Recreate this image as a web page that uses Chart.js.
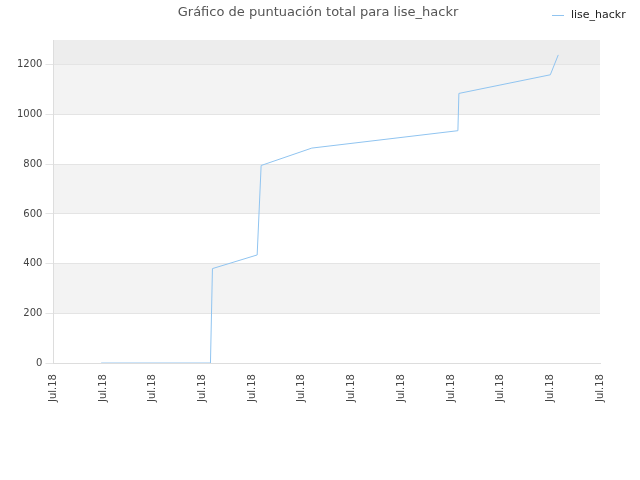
<!DOCTYPE html>
<html><head><meta charset="utf-8">
<script src="https://cdn.jsdelivr.net/npm/chart.js@4/dist/chart.umd.min.js"></script>
<style>body{margin:0;background:#fff}#w{width:640px;height:480px}</style>
</head><body><div id="w"><canvas id="c"></canvas></div>
<script>
const xValues=[0.96,3.16,3.2,4.1,4.18,5.2,8.14,8.16,10.0,10.16];
const yValues=[0,0,380,435,795,865,935,1085,1160,1240];
const tickLabel="Jul.18";
const seriesName="lise_hackr";
const titleText="Gráfico de puntuación total para lise_hackr";
const bands=[[200,400,'#f3f3f3'],[600,800,'#f3f3f3'],[1000,1200,'#f3f3f3'],[1200,1300,'#ededed']];
const bandPlugin={id:'bands',beforeDraw(ch){const {ctx,chartArea:a,scales:{y}}=ch;ctx.save();
for(const [lo,hi,c] of bands){const t=y.getPixelForValue(hi),b=y.getPixelForValue(lo);ctx.fillStyle=c;ctx.fillRect(a.left,t,a.right-a.left,b-t);}ctx.restore();},
afterDraw(ch){const ctx=ch.ctx;ctx.save();ctx.font='13px DejaVu Sans';ctx.fillStyle='#555';ctx.textAlign='center';ctx.textBaseline='middle';
ctx.fillText(titleText,318,13);ctx.font='11px DejaVu Sans';ctx.fillStyle='#222';ctx.textAlign='left';ctx.fillText(seriesName,571,15);
ctx.strokeStyle='#90c4f0';ctx.lineWidth=1;ctx.beginPath();ctx.moveTo(552,15.5);ctx.lineTo(564,15.5);ctx.stroke();ctx.restore();}};
new Chart(document.getElementById('c'),{type:'line',
data:{datasets:[{label:seriesName,data:xValues.map((x,i)=>({x,y:yValues[i]})),borderColor:'#90c4f0',backgroundColor:'#90c4f0',borderWidth:1,pointRadius:0,tension:0}]},
options:{responsive:true,maintainAspectRatio:false,animation:false,
layout:{padding:{left:14,right:40,top:40,bottom:75}},
plugins:{title:{display:false},legend:{display:false},tooltip:{enabled:false}},
scales:{x:{type:'linear',min:0,max:11,ticks:{stepSize:1,maxRotation:90,minRotation:90,color:'#444',font:{family:'DejaVu Sans',size:10},callback:()=>tickLabel},grid:{display:false},border:{color:'#ddd'}},
y:{min:0,max:1300,ticks:{stepSize:200,color:'#444',font:{family:'DejaVu Sans',size:10},callback:v=>v%200===0?String(v):null},grid:{color:'#e4e4e4'},border:{color:'#ddd'}}}},
plugins:[bandPlugin]});
</script></body></html>
